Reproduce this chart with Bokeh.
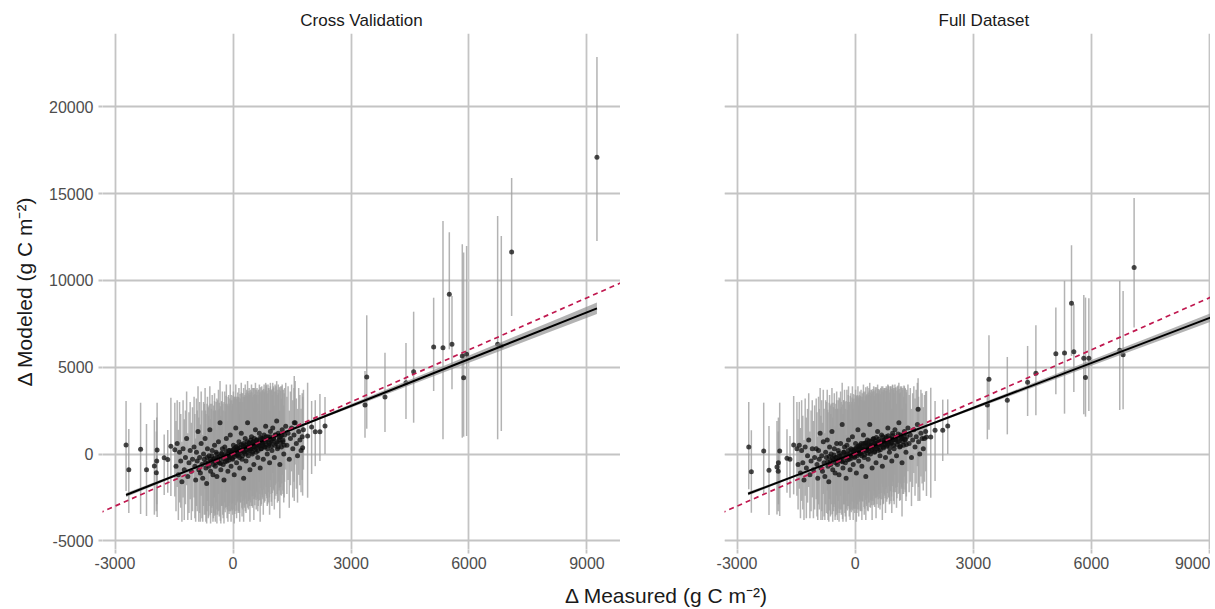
import numpy as np
from bokeh.plotting import figure
from bokeh.layouts import row, column
from bokeh.models import (ColumnDataSource, Grid, FixedTicker, Range1d, Slope,
                          CustomJSTickFormatter)
from bokeh.embed import file_html
from bokeh.resources import INLINE
from bokeh.core.properties import value

# ---------------- labels / ticks ----------------
panel_titles = ["Cross Validation", "Full Dataset"]
x_label = "\u0394 Measured (g C m\u207b\u00b2)"
y_label = "\u0394 Modeled (g C m\u207b\u00b2)"
x_ticks = [-3000, 0, 3000, 6000, 9000]
y_ticks = [-5000, 0, 5000, 10000, 15000, 20000]

# ---------------- Cross Validation: isolated sites ----------------
cv_out_x = [-2720, -2650, -2350, -2200, -2000, -1930, -1940, -1950, -1750, -1660, -1580,
            1557, 1770, 1897, 1999, 2091, 2210, 2339,
            3400, 3356, 3864, 4398, 4593, 5102, 5339, 5500, 5568, 5830, 5864, 5940,
            6729, 6822, 7085, 9254]
cv_out_y = [520, -900, 270, -900, -690, 230, -400, -1075, -210, -310, 440,
            1805, 365, 1037, 1555, 1287, 1287, 1613,
            4435, 2822, 3283, 4107, 4741, 6164, 6125, 9200, 6320, 5645, 4395, 5740,
            6319, 6221, 11636, 17100]
cv_out_lo = [-2130, -3400, -3450, -3570, -3500, -3630, -2900, -3300, -2360, -2230, -2420,
             -2707, -2400, -2517, -1152, -700, -403, 0,
             1457, 939, 1267, 2016, 1803, 3629, 847, 6030, 3726, 939, 1000, 1037,
             847, 1325, 7950, 12270]
cv_out_hi = [3050, 1440, 2950, 1730, 1960, 2950, 2100, 1300, 1130, 1380, 3245,
             4493, 3300, 4107, 3053, 3100, 3456, 3283,
             7990, 4781, 5835, 6394, 8197, 9003, 13422, 12770, 9100, 12080, 11600, 11980,
             13710, 12560, 15900, 22870]

# ---------------- cluster of sites (measured values shared by both panels) ----------------
cl_x = [-1480, -1450, -1420, -1390, -1360, -1330, -1300, -1270, -1240, -1210, -1180, -1150, -1120, -1090, -1060, -1030,
        -990, -970, -950, -930, -910, -890, -870, -850, -830, -810, -790, -770, -750, -730, -710, -690, -670, -650, -630, -610, -590, -570, -550, -530, -510,
        -490, -470, -450, -430, -410, -390, -370, -350, -330, -310, -290, -270, -250, -230, -210, -190, -170, -150, -130, -110, -90, -70, -50, -30, -10, 10, 30, 50, 70, 90,
        110, 130, 150, 170, 190, 210, 230, 250, 270, 290, 310, 330, 350, 370, 390, 410, 430, 450, 470, 490, 510, 530, 550, 570, 590, 610, 630, 650, 670, 690, 710, 730, 750, 770, 790,
        810, 830, 850, 870, 890, 910, 930, 950, 970, 990, 1010, 1030, 1050, 1070, 1090, 1110, 1130, 1150, 1170, 1190, 1210, 1230, 1250, 1270, 1290, 1310, 1340, 1370, 1400, 1430,
        1460, 1490, 1520, 1550, 1580, 1610, 1640, 1670, 1700, 1730, 1760, 1790]

cv_cl_y = [250, -700, 600, -1200, 100, -400, -1600, 300, -900, -200, 900, -1300, -500, 200, -1000, -300,
           400, -700, -1500, 100, -400, 1300, -900, -200, -1100, 600, -600, -1400, 0, -300, 900, -800, -1700, 300, -500, -100, 1400, -1000, -400, 200, -1200,
           -300, 500, -700, 100, -1300, -200, 700, -500, 1800, -900, 0, 300, -600, -1500, 400, -100, 900, -400, -1000, 200, -200, 1100, -700, 100, -300, 500, -1200, 0, 1500, -500,
           300, -100, 700, -800, 200, 1200, -300, 500, -1400, 100, 900, -400, 400, 1800, -100, 600, -900, 300, 1000, 0, 700, -600, 400, 1400, 100, 800, -200, 500, 1200, -800, 300, 900, 600, -300, 1100,
           400, 1600, 800, 0, 1000, 500, -500, 1300, 700, 200, 1500, 900, -200, 1100, 600, 1900, 300, 1200, 800, -600, 1000, 400, 1400, 700, 0, 1100, 1600, 500, 1200, -300,
           900, 1500, 300, 1100, 1800, 600, -100, 1300, 800, 200, 1000, 1400]

cl_err = [2700, 2600, 2500, 2600, 2900, 2700, 2300, 2800, 2900, 2700, 2700, 2500, 2900, 2800, 2800, 3000,
          2900, 3000, 2400, 3100, 2900, 2600, 3000, 3200, 2800, 3000, 3100, 2500, 3000, 3200, 2900, 3100, 2300, 3000, 3200, 2900, 2500, 3000, 3000, 3200, 2700,
          3100, 3000, 3200, 2900, 2700, 3300, 3000, 3100, 2400, 3100, 3000, 3300, 3100, 2500, 3200, 3000, 3100, 3300, 2900, 3200, 3100, 2900, 3200, 3000, 3200, 3100, 2800, 3300, 2500, 3200,
          3000, 3300, 3100, 3100, 3000, 2900, 3300, 3000, 2500, 3200, 3100, 3000, 3300, 2400, 3100, 3200, 3000, 3100, 3000, 3000, 3100, 3200, 3000, 2700, 3300, 3000, 3100, 3200, 2800, 3100, 3300, 3000, 3100, 3200, 2900,
          3100, 2500, 3200, 3000, 3000, 3300, 3000, 2800, 3000, 3200, 2600, 3000, 3000, 2900, 3000, 2300, 3100, 2800, 2900, 3100, 2900, 2800, 2600, 3000, 2800, 2700, 2500, 2800, 2700, 2800,
          2700, 2500, 2800, 2700, 2400, 2600, 2700, 2500, 2600, 2400, 2500, 2300]

fd_cl_y = [300, -600, 500, -1100, 200, -500, -1500, 400, -800, -100, 800, -1200, -400, 300, -900, -200,
           300, -600, -1400, 200, -300, 1200, -800, -100, -1000, 700, -500, -1300, 100, -200, 800, -700, -1600, 400, -400, 0, 1300, -900, -300, 300, -1100,
           -200, 600, -600, 200, -1200, -100, 600, -400, 1700, -800, 100, 400, -500, -1400, 500, 0, 800, -300, -900, 300, -100, 1000, -600, 200, -200, 600, -1100, 100, 1400, -400,
           400, 0, 600, -700, 300, 1100, -200, 600, -1300, 200, 800, -300, 500, 1700, 0, 500, -800, 400, 900, 100, 600, -500, 500, 1300, 200, 700, -100, 600, 1100, -700, 400, 800, 700, -200, 1000,
           500, 1500, 700, 100, 900, 600, -400, 1200, 800, 300, 1400, 800, -100, 1000, 700, 1800, 400, 1100, 900, -500, 900, 500, 1300, 800, 100, 1000, 1500, 600, 1100, -200,
           800, 1400, 400, 1000, 1700, 700, 0, 1200, 900, 300, 900, 1300]

# ---------------- dense core of the cluster ----------------
core_x = [-700, -660, -620, -580, -540, -500, -470, -440, -410, -380, -350, -320, -290, -260, -230, -200,
          -175, -150, -125, -100, -80, -60, -40, -20, 0,
          15, 30, 45, 60, 75, 90, 105, 120, 135, 150, 165, 180, 195, 210, 225, 240, 255, 270, 285, 300,
          315, 330, 345, 360, 375, 390, 405, 420, 435, 450, 465, 480, 495, 510, 525, 540, 555, 570, 585, 600,
          620, 640, 660, 680, 700, 720, 740, 760, 780, 800, 820, 840, 860, 880, 900,
          925, 950, 975, 1000, 1030, 1060, 1090, 1120, 1150, 1180, 1210, 1240, 1270, 1300]
cv_core_y = [-500, -200, -700, -300, -100, -600, -250, -500, 0, -400, -150, -550, 50, -300, -100, -450,
             150, -200, 0, -350, 200, -100, 100, -250, 250,
             0, 300, -150, 150, 400, -50, 200, 450, 0, 250, -200, 350, 100, 550, 200, -100, 300, 600, 150, 400,
             0, 500, 250, 700, 100, 400, 650, 200, 450, 800, 300, 550, 100, 700, 400, 900, 250, 600, 350, 800,
             500, 200, 700, 450, 950, 300, 650, 500, 850, 400, 700, 1000, 550, 300, 800,
             600, 1000, 450, 750, 900, 500, 1100, 700, 400, 950, 650, 1100, 800, 500]
fd_core_y = [-450, -150, -600, -250, -50, -500, -200, -400, 50, -300, -100, -450, 100, -200, -50, -350,
             200, -150, 50, -250, 250, -50, 150, -150, 300,
             50, 350, -100, 200, 450, 0, 250, 500, 50, 300, -100, 400, 150, 600, 250, -50, 350, 650, 200, 450,
             50, 550, 300, 750, 150, 450, 700, 250, 500, 850, 350, 600, 150, 750, 450, 950, 300, 650, 400, 850,
             550, 250, 750, 500, 1000, 350, 700, 550, 900, 450, 750, 1050, 600, 350, 850,
             650, 1050, 500, 800, 950, 550, 1150, 750, 450, 1000, 700, 1150, 850, 550]
core_err = [3000, 3100, 2900, 3200, 3000, 3100, 3300, 3000, 3200, 2900, 3100, 3300, 3000, 3200, 3100, 2900,
            3200, 3000, 3300, 3100, 3000, 3200, 3300, 3000, 3100,
            3200, 3000, 3300, 3100, 2900, 3200, 3000, 3100, 3300, 3000, 3200, 3100, 2900, 3000, 3300, 3100, 3000, 3200, 3100, 3000,
            3300, 3000, 3100, 2900, 3200, 3100, 3000, 3200, 3100, 2900, 3300, 3000, 3200, 3100, 3000, 2900, 3200, 3100, 3000, 2900,
            3100, 3200, 3000, 3100, 2900, 3200, 3000, 3100, 2900, 3200, 3000, 2900, 3100, 3200, 3000,
            3100, 2900, 3200, 3000, 2900, 3100, 2800, 3000, 3100, 2900, 3000, 2800, 2900, 3000]

# ---------------- Full Dataset: isolated sites ----------------
fd_out_x = [-2703, -2637, -2323, -2189, -1986, -1917, -1950, -1955, -1732, -1656, -1562,
            1598, 1811, 1920, 2029, 2224, 2351,
            3398, 3357, 3864, 4380, 4590, 5097, 5317, 5495, 5554, 5807, 5850, 5935,
            6720, 6805, 7085]
fd_out_y = [403, -1018, 173, -941, -749, 173, -500, -1000, -250, -307, 518,
            2574, 980, 980, 1364, 1364, 1614,
            4305, 2824, 3093, 4130, 4650, 5781, 5820, 8684, 5897, 5512, 4400, 5512,
            5977, 5724, 10740]
fd_out_lo = [-2036, -3381, -2324, -3516, -3477, -3574, -2900, -3300, -2228, -2516, -2324,
             -2709, -2420, -2516, -1556, -403, 0,
             1400, 850, 1133, 2190, 2228, 3440, 2324, 5650, 3574, 2286, 2150, 2478,
             2536, 2574, 7280]
fd_out_hi = [2997, 1364, 2958, 1614, 1902, 2958, 2100, 1300, 1421, 1037, 3343,
             4361, 3631, 3823, 3055, 3132, 3150,
             6843, 4300, 5590, 6224, 7417, 8433, 9970, 12030, 8630, 9165, 9010, 8970,
             9970, 9395, 14740]

# ---------------- linear fits ----------------
cv_fit_x = [-2720, 9254]
cv_fit_y = [-2362, 8390]
fd_fit_x = [-2720, 9254]
fd_fit_y = [-2290, 8055]
band_x = [-2720, -1000, 300, 2000, 4000, 6000, 8000, 9254]
cv_band_hw = [115, 55, 25, 68, 140, 212, 285, 330]
fd_band_hw = [95, 45, 20, 55, 110, 165, 220, 255]

# ---------------- styling ----------------
FONT = "Liberation Sans"
GRID = "#c4c4c4"
X_RANGE = (-3319, 9853)
Y_RANGE = (-5500, 24221)
FRAME_H = 516
TOP = 33
BOTTOM = 28
FMT = "return tick.toFixed(0);"


def assemble(out_x, out_y, out_lo, out_hi, cl_y, core_y):
    xs = list(out_x) + list(cl_x) + list(core_x)
    ys = list(out_y) + list(cl_y) + list(core_y)
    lo = (list(out_lo) + [y - e for y, e in zip(cl_y, cl_err)]
          + [y - e for y, e in zip(core_y, core_err)])
    hi = (list(out_hi) + [y + e for y, e in zip(cl_y, cl_err)]
          + [y + e for y, e in zip(core_y, core_err)])
    return ColumnDataSource(dict(x=xs, y=ys, lo=lo, hi=hi))


def style_common(p):
    p.outline_line_color = None
    p.background_fill_color = "white"
    p.border_fill_color = "white"
    p.title.text_font = FONT
    p.title.text_font_size = "17px"
    p.title.text_font_style = "normal"
    p.title.text_color = "#1a1a1a"
    p.title.standoff = 7
    xa = p.xaxis[0]
    xa.ticker = FixedTicker(ticks=x_ticks)
    xa.formatter = CustomJSTickFormatter(code=FMT)
    xa.axis_line_color = None
    xa.major_tick_line_color = GRID
    xa.major_tick_line_width = 1.8
    xa.major_tick_out = 4
    xa.major_tick_in = 0
    xa.minor_tick_line_color = None
    xa.major_label_standoff = 3
    xa.major_label_text_font = FONT
    xa.major_label_text_font_size = "16px"
    xa.major_label_text_color = "#4d4d4d"
    p.xgrid.grid_line_color = GRID
    p.xgrid.grid_line_width = 1.8
    p.xgrid.ticker = FixedTicker(ticks=x_ticks)


def draw(p, src, fit_x, fit_y, band_hw):
    p.segment(x0="x", y0="lo", x1="x", y1="hi", source=src,
              line_color="#a0a0a0", line_width=1.5, line_alpha=0.8)
    p.scatter(x="x", y="y", source=src, size=5, fill_color="#0d0d0d",
              line_color=None, fill_alpha=0.75)
    centre = np.interp(band_x, fit_x, fit_y)
    p.varea(x=band_x, y1=list(centre - np.array(band_hw)), y2=list(centre + np.array(band_hw)),
            fill_color="#8a8a8a", fill_alpha=0.65)
    p.line(x=fit_x, y=fit_y, line_color="black", line_width=2)
    p.add_layout(Slope(gradient=1, y_intercept=0, line_color="#c0184f",
                       line_width=1.7, line_dash="5 4"))


# ---------------- left panel ----------------
p1 = figure(frame_width=518, frame_height=FRAME_H,
            x_range=Range1d(*X_RANGE), y_range=Range1d(*Y_RANGE),
            output_backend="svg", toolbar_location=None,
            min_border_left=102, min_border_right=0,
            min_border_top=TOP, min_border_bottom=BOTTOM,
            title=panel_titles[0])
style_common(p1)
p1.title.align = "center"
ya = p1.yaxis[0]
ya.ticker = FixedTicker(ticks=y_ticks)
ya.formatter = CustomJSTickFormatter(code=FMT)
ya.axis_line_color = None
ya.major_tick_line_color = GRID
ya.major_tick_line_width = 1.8
ya.major_tick_out = 4
ya.major_tick_in = 0
ya.minor_tick_line_color = None
ya.major_label_standoff = 5
ya.major_label_text_font = FONT
ya.major_label_text_font_size = "16px"
ya.major_label_text_color = "#4d4d4d"
ya.axis_label = y_label
ya.axis_label_text_font = FONT
ya.axis_label_text_font_size = "21px"
ya.axis_label_text_font_style = "normal"
ya.axis_label_text_color = "#1a1a1a"
ya.axis_label_standoff = 10
p1.ygrid.grid_line_color = GRID
p1.ygrid.grid_line_width = 1.8
p1.ygrid.ticker = FixedTicker(ticks=y_ticks)
draw(p1, assemble(cv_out_x, cv_out_y, cv_out_lo, cv_out_hi, cv_cl_y, cv_core_y),
     cv_fit_x, cv_fit_y, cv_band_hw)

# ---------------- right panel (cut at the window edge) ----------------
p2 = figure(frame_width=486, frame_height=FRAME_H,
            x_range=Range1d(X_RANGE[0], 9025), y_range=Range1d(*Y_RANGE),
            output_backend="svg", toolbar_location=None,
            y_axis_location=None,
            min_border_left=104, min_border_right=0,
            min_border_top=TOP, min_border_bottom=BOTTOM,
            title=panel_titles[1])
style_common(p2)
p2.title.align = "left"
p2.title.offset = 214
p2.add_layout(Grid(dimension=1, ticker=FixedTicker(ticks=y_ticks),
                   grid_line_color=GRID, grid_line_width=1.8))
draw(p2, assemble(fd_out_x, fd_out_y, fd_out_lo, fd_out_hi, fd_cl_y, fd_core_y),
     fd_fit_x, fd_fit_y, fd_band_hw)

# ---------------- shared x-axis title ----------------
p3 = figure(width=1210, height=32, x_range=Range1d(0, 1210), y_range=Range1d(0, 32),
            output_backend="svg", toolbar_location=None,
            x_axis_location=None, y_axis_location=None,
            min_border=0)
p3.outline_line_color = None
p3.xgrid.visible = False
p3.ygrid.visible = False
p3.text(x=[666], y=[14], text=[x_label], text_font=value(FONT),
        text_font_size="21px", text_color="#1a1a1a",
        text_align="center", text_baseline="middle")

layout = column(row(p1, p2), p3)
open("out.html", "w").write(file_html(layout, INLINE))
